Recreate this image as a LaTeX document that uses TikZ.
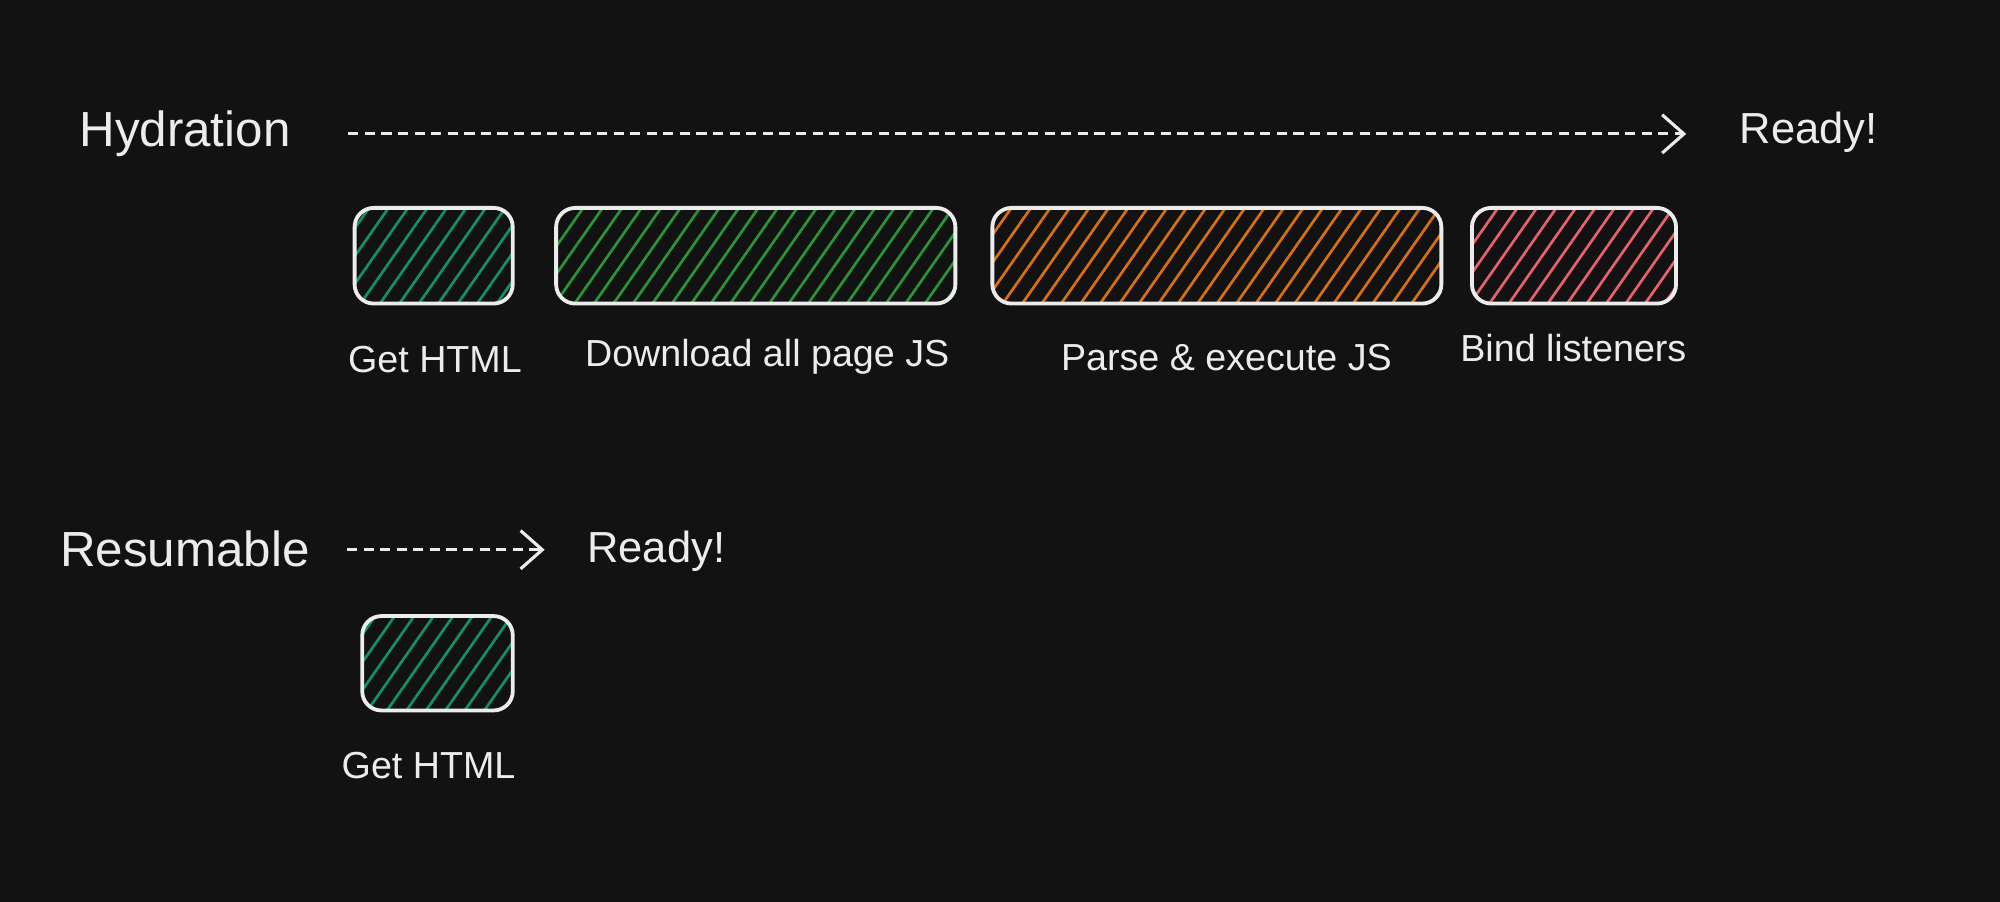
\documentclass[tikz,border=0pt]{standalone}
\usepackage{fontspec}
\setmainfont{Liberation Sans}
\usetikzlibrary{arrows.meta,patterns.meta}
\definecolor{bgdark}{HTML}{121212}
\definecolor{chalk}{HTML}{ECECEC}
\definecolor{hteal}{HTML}{12906A}
\definecolor{hgreen}{HTML}{2A9438}
\definecolor{horange}{HTML}{D9700F}
\definecolor{hpink}{HTML}{E8616E}

\begin{document}
\begin{tikzpicture}[
        phase/.style={draw=chalk, line width=0.85pt, rounded corners=0.15cm, minimum height=0.75cm, inner sep=0pt,
            pattern={Lines[angle=55,distance=0.125cm,line width=0.6pt]}, pattern color=#1},
        steplabel/.style={text=chalk, font=\fontsize{8.4}{10}\selectfont},
        rowlabel/.style={text=chalk, font=\fontsize{11}{13}\selectfont},
        readylabel/.style={text=chalk, font=\fontsize{9.7}{12}\selectfont},
        timeline/.style={draw=chalk, line width=0.7pt, dash pattern=on 0.08cm off 0.05cm,
            -{Straight Barb[length=0.17cm,width=0.3cm]}}
    ]
        \fill[bgdark] (0,0) rectangle (15.68,7.07);

        % hydration row
        \node[rowlabel] (hydration) at (1.45,6.02) {Hydration};
        \node[readylabel] (hready) at (14.18,6.03) {Ready!};
        \coordinate (hstart) at (2.73,6.02);
        \coordinate (hend) at (13.22,6.02);
        \draw[timeline] (hstart) -- (hend);

        \node[phase=hteal, minimum width=1.24cm] (gethtml) at (3.40,5.065) {};
        \node[phase=hgreen, minimum width=3.13cm] (download) at (5.925,5.065) {};
        \node[phase=horange, minimum width=3.52cm] (execute) at (9.54,5.065) {};
        \node[phase=hpink, minimum width=1.60cm] (bind) at (12.34,5.065) {};

        \node[steplabel] (gethtmltxt) at (3.41,4.25) {Get HTML};
        \node[steplabel] (downloadtxt) at (6.015,4.27) {Download all page JS};
        \node[steplabel] (executetxt) at (9.615,4.27) {Parse \& execute JS};
        \node[steplabel] (bindtxt) at (12.335,4.34) {Bind listeners};

        % resumable row
        \node[rowlabel] (resumable) at (1.45,2.77) {Resumable};
        \node[readylabel] (rready) at (5.145,2.75) {Ready!};
        \coordinate (rstart) at (2.72,2.76);
        \coordinate (rend) at (4.27,2.76);
        \draw[timeline] (rstart) -- (rend);

        \node[phase=hteal, minimum width=1.18cm, minimum height=0.74cm] (rgethtml) at (3.43,1.87) {};
        \node[steplabel] (rgethtmltxt) at (3.36,1.07) {Get HTML};
    \end{tikzpicture}
\end{document}
